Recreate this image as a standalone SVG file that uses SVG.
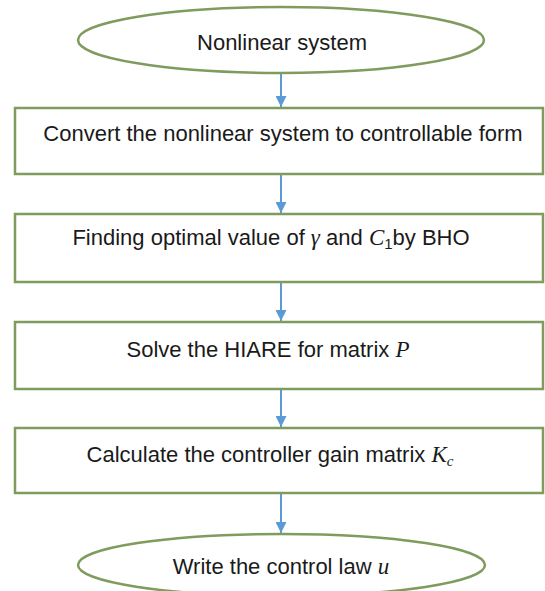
<svg xmlns="http://www.w3.org/2000/svg" width="545" height="591" viewBox="0 0 545 591">
<style>
.shape{fill:#ffffff;stroke:#7f9b5e;stroke-width:2.5}
.lbl{font-family:"Liberation Sans",Arial,sans-serif;font-size:22px;fill:#1a1a1a;text-anchor:middle}
.m{font-family:"Liberation Serif","Times New Roman",serif;font-style:italic;font-size:23px}
.sub{font-size:15px}
.conn line{stroke:#5b9bd5;stroke-width:2}
</style>
<defs>
<marker id="ah" viewBox="0 0 10 10" refX="10" refY="5" markerWidth="13" markerHeight="11" markerUnits="userSpaceOnUse" orient="auto">
<path d="M0,0 L10,5 L0,10 z" fill="#5b9bd5"/>
</marker>
</defs>
<rect width="545" height="591" fill="#ffffff"/>
<g class="conn">
<line x1="281" y1="73" x2="281" y2="107" marker-end="url(#ah)"/>
<line x1="281" y1="175" x2="281" y2="213" marker-end="url(#ah)"/>
<line x1="281" y1="283" x2="281" y2="321" marker-end="url(#ah)"/>
<line x1="281" y1="390" x2="281" y2="427" marker-end="url(#ah)"/>
<line x1="281" y1="494" x2="281" y2="533" marker-end="url(#ah)"/>
</g>
<g id="n1">
<ellipse class="shape" cx="281" cy="40" rx="203" ry="33"/>
<text class="lbl" x="282" y="50">Nonlinear system</text>
</g>
<g id="n2">
<rect class="shape" x="15" y="108" width="528" height="66"/>
<text class="lbl" x="283" y="141">Convert the nonlinear system to controllable form</text>
</g>
<g id="n3">
<rect class="shape" x="15" y="214" width="528" height="68"/>
<text class="lbl" x="271" y="245">Finding optimal value of <tspan class="m">γ</tspan> and <tspan class="m">C</tspan><tspan class="sub" dy="4">1</tspan><tspan dy="-4">by BHO</tspan></text>
</g>
<g id="n4">
<rect class="shape" x="15" y="322" width="528" height="67"/>
<text class="lbl" x="268" y="357">Solve the HIARE for matrix <tspan class="m">P</tspan></text>
</g>
<g id="n5">
<rect class="shape" x="15" y="428" width="528" height="65"/>
<text class="lbl" x="270" y="462">Calculate the controller gain matrix <tspan class="m">K</tspan><tspan class="m sub" dy="4">c</tspan></text>
</g>
<g id="n6">
<ellipse class="shape" cx="281.5" cy="565" rx="203.5" ry="31"/>
<text class="lbl" x="281" y="574">Write the control law <tspan class="m">u</tspan></text>
</g>
</svg>
